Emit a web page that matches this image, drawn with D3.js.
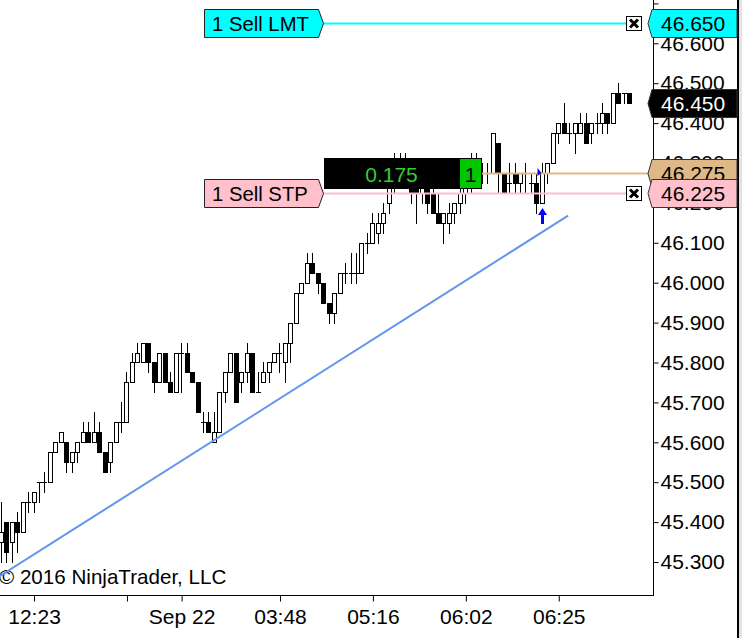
<!DOCTYPE html>
<html><head><meta charset="utf-8">
<script src="https://cdn.jsdelivr.net/npm/d3@7"></script>
<style>html,body{margin:0;padding:0;background:#fff;}svg{display:block;}</style>
</head><body>
<svg id="c" width="742" height="638"></svg>
<script>
// ---- data ----
const opens  = [45.35,45.40,45.35,45.40,45.375,45.45,45.45,45.50,45.50,45.50,45.575,45.60,45.60,45.55,45.575,45.60,45.625,45.60,45.625,45.575,45.55,45.60,45.65,45.65,45.75,45.80,45.80,45.85,45.80,45.75,45.825,45.75,45.725,45.825,45.825,45.775,45.75,45.65,45.65,45.60,45.625,45.725,45.775,45.825,45.75,45.775,45.825,45.725,45.75,45.775,45.80,45.825,45.80,45.85,45.90,45.975,46.00,46.05,46.025,46.00,45.95,45.925,45.975,46.025,46.025,46.025,46.025,46.10,46.10,46.125,46.15,46.20,46.25,46.30,46.275,46.275,46.25,46.225,46.25,46.225,46.175,46.15,46.15,46.175,46.20,46.225,46.25,46.30,46.275,46.275,46.275,46.35,46.275,46.25,46.275,46.25,46.275,46.25,46.25,46.20,46.275,46.30,46.375,46.40,46.375,46.375,46.375,46.40,46.375,46.40,46.40,46.425,46.40,46.475,46.475,46.475];
const highs  = [45.45,45.40,45.40,45.425,45.45,45.475,45.475,45.50,45.525,45.575,45.60,45.625,45.60,45.575,45.60,45.65,45.65,45.675,45.65,45.575,45.60,45.65,45.70,45.775,45.825,45.85,45.85,45.85,45.80,45.825,45.825,45.775,45.825,45.85,45.85,45.775,45.75,45.675,45.675,45.675,45.725,45.775,45.825,45.825,45.775,45.85,45.825,45.775,45.80,45.80,45.825,45.85,45.85,45.90,45.975,46.00,46.075,46.075,46.025,46.00,45.95,45.975,46.025,46.05,46.075,46.075,46.10,46.125,46.175,46.175,46.20,46.275,46.325,46.325,46.325,46.30,46.25,46.25,46.275,46.25,46.225,46.175,46.20,46.20,46.25,46.30,46.325,46.325,46.30,46.30,46.375,46.35,46.275,46.30,46.30,46.275,46.30,46.275,46.275,46.30,46.30,46.375,46.40,46.45,46.40,46.40,46.425,46.425,46.40,46.425,46.45,46.425,46.475,46.50,46.475,46.475];
const lows   = [45.30,45.30,45.30,45.325,45.375,45.425,45.425,45.45,45.475,45.50,45.575,45.60,45.525,45.525,45.55,45.60,45.60,45.60,45.575,45.525,45.525,45.60,45.625,45.65,45.75,45.80,45.80,45.775,45.725,45.75,45.75,45.725,45.725,45.725,45.775,45.75,45.675,45.625,45.625,45.60,45.625,45.70,45.775,45.70,45.725,45.75,45.725,45.725,45.75,45.75,45.80,45.775,45.75,45.80,45.90,45.975,46.00,46.025,45.975,45.95,45.90,45.90,45.975,46.00,46.00,46.00,46.025,46.075,46.10,46.10,46.125,46.175,46.225,46.25,46.25,46.20,46.15,46.20,46.175,46.175,46.15,46.10,46.125,46.15,46.175,46.20,46.225,46.25,46.25,46.25,46.275,46.225,46.225,46.225,46.225,46.225,46.225,46.225,46.175,46.20,46.25,46.30,46.35,46.375,46.35,46.325,46.375,46.35,46.35,46.375,46.375,46.375,46.40,46.45,46.45,46.45];
const closes = [45.375,45.325,45.40,45.375,45.45,45.45,45.475,45.50,45.50,45.575,45.60,45.625,45.55,45.575,45.60,45.625,45.60,45.625,45.575,45.525,45.60,45.65,45.65,45.75,45.80,45.825,45.85,45.80,45.75,45.825,45.75,45.725,45.825,45.825,45.775,45.75,45.675,45.65,45.625,45.625,45.725,45.775,45.825,45.70,45.775,45.825,45.725,45.725,45.775,45.80,45.825,45.825,45.85,45.90,45.975,46.00,46.05,46.025,46.00,45.95,45.925,45.975,46.025,46.025,46.025,46.025,46.10,46.10,46.15,46.15,46.175,46.25,46.30,46.275,46.30,46.225,46.225,46.25,46.20,46.175,46.15,46.175,46.175,46.20,46.225,46.275,46.30,46.275,46.275,46.275,46.375,46.275,46.225,46.25,46.25,46.275,46.275,46.25,46.20,46.275,46.30,46.375,46.40,46.375,46.375,46.40,46.40,46.35,46.40,46.40,46.425,46.40,46.475,46.45,46.475,46.45];

const xTickBars   = [6, 23, 33, 51, 68, 85, 102];
const xTickLabels = ["12:23", "", "Sep 22", "03:48", "05:16", "06:02", "06:25"];
const yTickValues = [45.3,45.4,45.5,45.6,45.7,45.8,45.9,46.0,46.1,46.2,46.3,46.4,46.5,46.6,46.7];
const yLabelValues = [45.3,45.4,45.5,45.6,45.7,45.8,45.9,46.0,46.1,46.2,46.3,46.4,46.5,46.6];

const orderPrices = [46.65, 46.225];
const orderLabels = ["1 Sell LMT", "1 Sell STP"];
const orderColors = ["#00ffff", "#ffc0cb"];

const markerPrices = [46.65, 46.45, 46.275, 46.225];
const markerFills  = ["#00ffff", "#000000", "#deb887", "#ffc0cb"];
const markerText   = ["#000000", "#ffffff", "#000000", "#000000"];

const positionPrice = 46.275;
const positionPnl = "0.175";
const positionQty = "1";
const executionBar = 99;
const trendStart = {bar: -0.135, price: 45.265};
const trendEnd   = {bar: 103.8, price: 46.168};

// ---- layout ----
const W = 742, H = 638;
const plotR = 653, plotB = 595;
const FONT = "Arial, 'Liberation Sans', sans-serif";
const svg = d3.select("#c");

svg.append("rect").attr("width", W).attr("height", H).attr("fill", "#fff");
svg.append("rect").attr("x", 739).attr("y", 0).attr("width", 3).attr("height", H).attr("fill", "#e3e3e3");
svg.append("rect").attr("x", 737).attr("y", 0).attr("width", 2).attr("height", H).attr("fill", "#000");

const x = d3.scaleLinear().domain([0, 115]).range([0.74, 629.3]);
const y = d3.scaleLinear().domain([45.2173, 46.7085]).range([plotB, 0]);

// axes
const yAxis = d3.axisRight(y).tickValues(yTickValues).tickSize(5).tickSizeOuter(0)
  .tickFormat(d => yLabelValues.some(v => Math.abs(v - d) < 1e-6) ? d3.format(".3f")(d) : "");
const gy = svg.append("g").attr("transform", `translate(${plotR + 0.5},0)`).call(yAxis);
gy.select(".domain").remove();
gy.selectAll(".tick line").attr("stroke", "#000");
gy.selectAll(".tick text").attr("x", 7).attr("font-size", 21).attr("font-family", FONT).attr("fill", "#000");

const xAxis = d3.axisBottom(x).tickValues(xTickBars).tickSize(6).tickSizeOuter(0)
  .tickFormat((d, i) => xTickLabels[i]);
const gx = svg.append("g").attr("transform", `translate(0.5,${plotB + 0.5})`).call(xAxis);
gx.select(".domain").remove();
gx.selectAll(".tick line").attr("stroke", "#000");
gx.selectAll(".tick text").attr("y", 14).attr("font-size", 21).attr("font-family", FONT).attr("fill", "#000");

svg.append("line").attr("x1", 0).attr("x2", plotR + 1).attr("y1", plotB + 0.5).attr("y2", plotB + 0.5).attr("stroke", "#000");
svg.append("line").attr("x1", plotR + 0.5).attr("x2", plotR + 0.5).attr("y1", 0).attr("y2", plotB + 1).attr("stroke", "#000");

// copyright
svg.append("text").attr("x", -1).attr("y", 584).attr("font-size", 20.6).attr("font-family", FONT)
  .attr("fill", "#000").text("\u00a9 2016 NinjaTrader, LLC");

// candles
const idx = d3.range(opens.length);
const gc = svg.append("g");
idx.forEach(i => {
  const cx = Math.round(x(i));
  const yh = Math.round(y(highs[i])), yl = Math.round(y(lows[i]));
  const yo = Math.round(y(opens[i])), yc = Math.round(y(closes[i]));
  gc.append("line").attr("x1", cx + 0.5).attr("x2", cx + 0.5).attr("y1", yh).attr("y2", yl + 1).attr("stroke", "#000");
  if (yo === yc) {
    gc.append("line").attr("x1", cx - 2).attr("x2", cx + 3).attr("y1", yo + 0.5).attr("y2", yo + 0.5).attr("stroke", "#000");
  } else {
    const top = Math.min(yo, yc), bot = Math.max(yo, yc);
    gc.append("rect").attr("x", cx - 1.5).attr("y", top + 0.5).attr("width", 4).attr("height", bot - top)
      .attr("fill", closes[i] < opens[i] ? "#000" : "#fff").attr("stroke", "#000");
  }
});

// trend line
svg.append("line").attr("x1", x(trendStart.bar)).attr("y1", y(trendStart.price))
  .attr("x2", x(trendEnd.bar)).attr("y2", y(trendEnd.price))
  .attr("stroke", "#6495ed").attr("stroke-width", 2);

// position line
const posY = Math.round(y(positionPrice)) + 0.5;
svg.append("line").attr("x1", 482).attr("x2", 648).attr("y1", posY).attr("y2", posY)
  .attr("stroke", "#deb887").attr("stroke-width", 2);

// order lines, flags, close boxes
orderPrices.forEach((p, i) => {
  const yc = Math.round(y(p)) + 0.5;
  svg.append("line").attr("x1", 323).attr("x2", 627).attr("y1", yc).attr("y2", yc)
    .attr("stroke", orderColors[i]).attr("stroke-width", 2);
  const t = yc - 14, b = yc + 14;
  svg.append("path").attr("d", `M204.5,${t}L318.5,${t}L323.5,${yc}L318.5,${b}L204.5,${b}Z`)
    .attr("fill", orderColors[i]).attr("stroke", "#222").attr("stroke-width", 1);
  svg.append("text").attr("x", 212).attr("y", yc + 7.5).attr("font-size", 20.3).attr("font-family", FONT)
    .attr("fill", "#000").text(orderLabels[i]);
  const bx = 626.5, by = Math.round(yc - 7.5) + 0.5;
  svg.append("rect").attr("x", bx).attr("y", by).attr("width", 15).attr("height", 14)
    .attr("fill", "#fff").attr("stroke", "#000");
  svg.append("path").attr("d", `M${bx + 3.5},${by + 3}L${bx + 11.5},${by + 11}M${bx + 11.5},${by + 3}L${bx + 3.5},${by + 11}`)
    .attr("stroke", "#000").attr("stroke-width", 3);
});

// position box
const boxT = posY - 15.5, boxH = 31;
svg.append("rect").attr("x", 324).attr("y", boxT).attr("width", 158).attr("height", boxH).attr("fill", "#000");
svg.append("rect").attr("x", 459.5).attr("y", boxT + 0.5).attr("width", 22).attr("height", boxH - 1)
  .attr("fill", "#00c800").attr("stroke", "#000");
svg.append("text").attr("x", 391.5).attr("y", posY + 8).attr("text-anchor", "middle").attr("font-size", 21)
  .attr("font-family", FONT).attr("fill", "#32cd32").text(positionPnl);
svg.append("text").attr("x", 470.5).attr("y", posY + 8).attr("text-anchor", "middle").attr("font-size", 21)
  .attr("font-family", FONT).attr("fill", "#000").text(positionQty);

// execution markers
const ex = Math.round(x(executionBar)) + 0.5;
const ey = Math.round(y(lows[executionBar])) + 5;
svg.append("path").attr("d", `M${ex},${ey}L${ex + 4.5},${ey + 7}L${ex + 1.5},${ey + 7}L${ex + 1.5},${ey + 16}L${ex - 1.5},${ey + 16}L${ex - 1.5},${ey + 7}L${ex - 4.5},${ey + 7}Z`)
  .attr("fill", "#0000ff");
const my = Math.round(y(positionPrice));
svg.append("path").attr("d", `M${ex - 5},${my - 5}L${ex - 1},${my}L${ex - 5},${my + 3}Z`).attr("fill", "#0000ff");

// price markers on axis
markerPrices.forEach((p, i) => {
  const yc = Math.round(y(p)) + 0.5;
  const t = yc - 14, b = yc + 14;
  svg.append("path").attr("d", `M652,${t}L737,${t}L737,${b}L652,${b}L648,${yc}Z`)
    .attr("fill", markerFills[i]).attr("stroke", "#333").attr("stroke-width", 1);
  svg.append("text").attr("x", 661).attr("y", yc + 7.5).attr("font-size", 21).attr("font-family", FONT)
    .attr("fill", markerText[i]).text(d3.format(".3f")(p));
});
</script>
</body></html>
